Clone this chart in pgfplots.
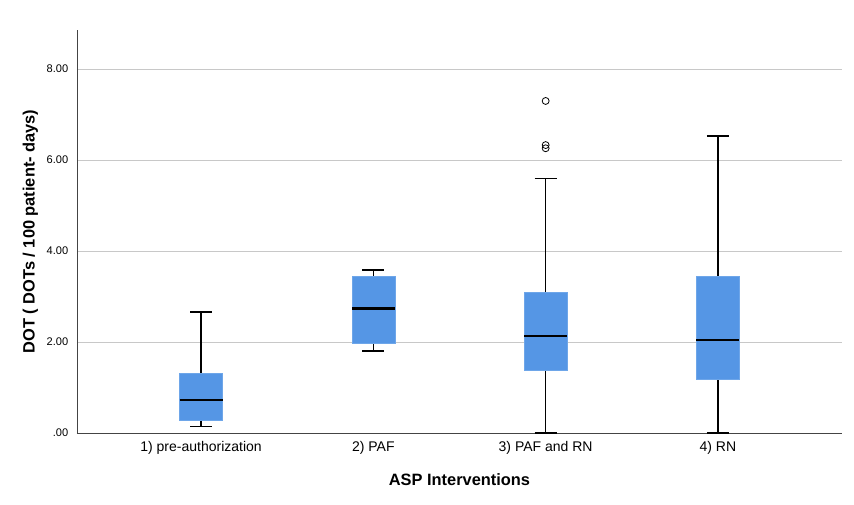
\documentclass[border=0pt]{standalone}
\usepackage{pgfplots}
\usepgfplotslibrary{statistics}
\pgfplotsset{compat=1.18}
\usepackage{fontspec}
\setmainfont{Liberation Sans}
\definecolor{boxblue}{HTML}{5596E5}
\definecolor{gridgray}{HTML}{C8C8C8}
\definecolor{axgray}{HTML}{444444}

\begin{document}
\begin{tikzpicture}[x=0.75pt,y=0.75pt]
\begin{axis}[
    x=, y=,
    scale only axis,
    width=573.75pt,
    height=302.25pt,
    xmin=0.28, xmax=4.72,
    ymin=0, ymax=8.86,
    axis x line*=bottom,
    axis y line*=left,
    axis line style={axgray, line width=0.6pt},
    xtick={1,2,3,4},
    xticklabels={1) pre-authorization, 2) PAF, 3) PAF and RN, 4) RN},
    ytick={0,2,4,6,8},
    yticklabels={.00,2.00,4.00,6.00,8.00},
    major tick length=0pt,
    ymajorgrids,
    grid style={gridgray, line width=0.6pt},
    /pgf/number format/assume math mode=true,
    x tick label style={font=\fontsize{10.5}{12}\selectfont, yshift=-3pt},
    y tick label style={font=\fontsize{8.3}{10}\selectfont, xshift=-3pt},
    xlabel={\bfseries ASP Interventions},
    ylabel={\bfseries DOT ( DOTs / 100 patient- days)},
    label style={font=\fontsize{12.3}{14}\selectfont},
    xlabel style={at={(axis description cs:0.5,0)}, anchor=center, yshift=-35pt},
    ylabel style={at={(axis description cs:0,0.5)}, anchor=center, yshift=35pt},
    boxplot/draw direction=y,
    boxplot/box extend=0.25,
    boxplot/whisker extend=0.128,
    boxplot/every box/.style={draw=boxblue!85, fill=boxblue, line width=0.4pt},
    boxplot/every whisker/.style={black, line width=1.1pt},
    boxplot/every median/.style={black, line width=1.8pt},
]
\addplot[boxplot prepared={draw position=1, lower whisker=0.14, lower quartile=0.27,
    median=0.73, upper quartile=1.31, upper whisker=2.66}] coordinates {};
\addplot[boxplot prepared={draw position=2, lower whisker=1.80, lower quartile=1.98,
    median=2.74, upper quartile=3.45, upper whisker=3.58}] coordinates {};
\addplot[boxplot prepared={draw position=3, lower whisker=0, lower quartile=1.39,
    median=2.13, upper quartile=3.09, upper whisker=5.60},
    mark=o, mark size=2.6pt, mark options={black, line width=0.6pt}]
    table[row sep=\\, y index=0] {7.30\\ 6.33\\ 6.26\\};
\addplot[boxplot prepared={draw position=4, lower whisker=0, lower quartile=1.19,
    median=2.05, upper quartile=3.44, upper whisker=6.53}] coordinates {};
\end{axis}
\path[use as bounding box] (-77,-71) rectangle (777,433);
\end{tikzpicture}
\end{document}
